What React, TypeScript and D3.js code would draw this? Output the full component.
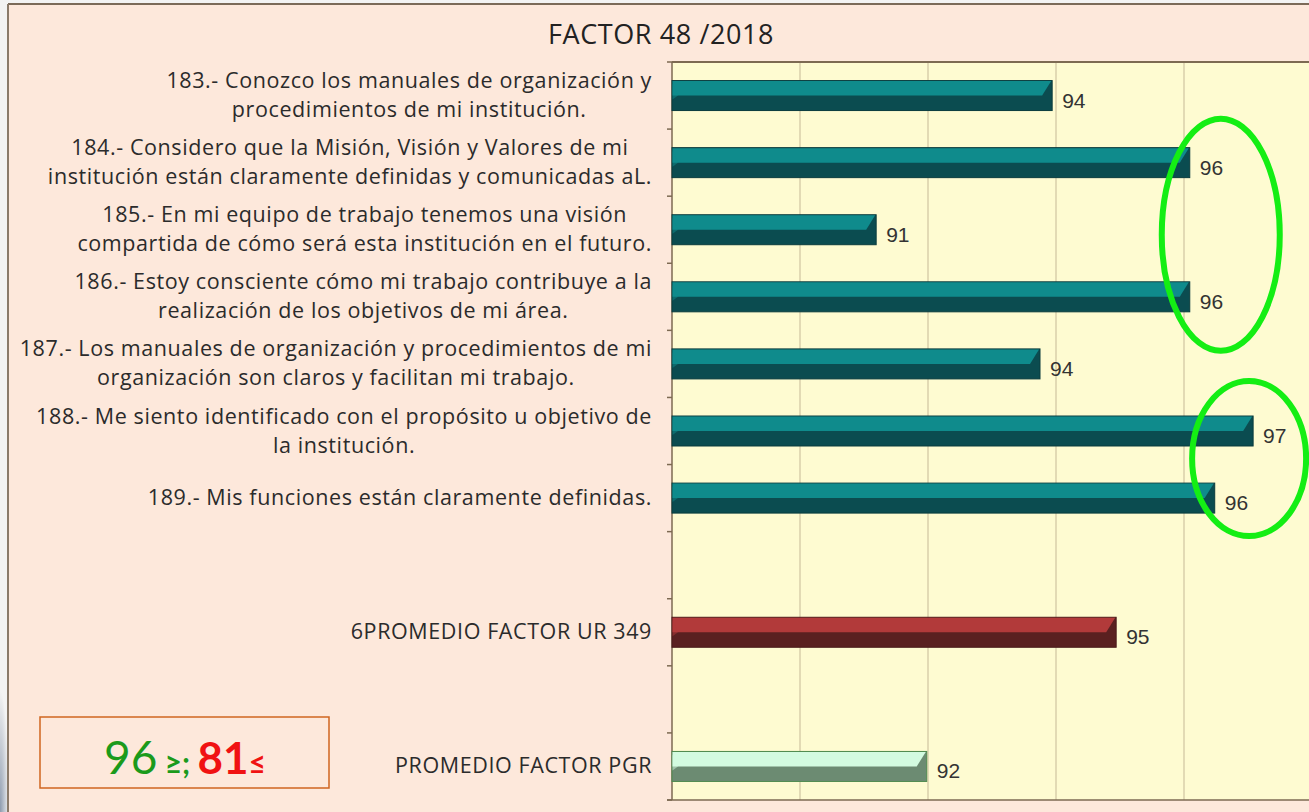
import React, { useEffect, useRef } from "react";
import * as d3 from "d3";

const W = 1309;
const H = 812;

const title = "FACTOR 48 /2018";

const questionLabels: string[][] = [
  ["183.- Conozco los manuales de organización y", "procedimientos de mi institución."],
  ["184.- Considero que la Misión, Visión y Valores de mi", "institución están claramente definidas y comunicadas aL."],
  ["185.- En mi equipo de trabajo tenemos una visión", "compartida de cómo será esta institución en el futuro."],
  ["186.- Estoy consciente cómo mi trabajo contribuye a la", "realización de los objetivos de mi área."],
  ["187.- Los manuales de organización y procedimientos de mi", "organización son claros y facilitan mi trabajo."],
  ["188.- Me siento identificado con el propósito u objetivo de", "la institución."],
  ["189.- Mis funciones están claramente definidas."],
];
const questionValues = [93.94, 96.09, 91.19, 96.09, 93.75, 97.08, 96.48];

const urLabel = "6PROMEDIO FACTOR UR 349";
const urValue = 94.94;
const pgrLabel = "PROMEDIO FACTOR PGR";
const pgrValue = 91.98;

const xDomain = [88, 98];
const xTicks = [88, 90, 92, 94, 96, 98];

// questions circled in green
const circledGroups = [[1, 2, 3], [5, 6]];

const legendGreen = "96";
const legendRed = "81";

type Row = { key: string; lines: string[]; value: number | null; kind: string };

const rows: Row[] = [
  ...questionLabels.map((l, i) => ({ key: "q" + i, lines: l, value: questionValues[i], kind: "q" })),
  { key: "gap1", lines: [], value: null, kind: "gap" },
  { key: "ur", lines: [urLabel], value: urValue, kind: "ur" },
  { key: "gap2", lines: [], value: null, kind: "gap" },
  { key: "pgr", lines: [pgrLabel], value: pgrValue, kind: "pgr" },
];

const palette: Record<string, { light: string; dark: string; stroke: string }> = {
  q: { light: "#0f8b8c", dark: "#0b4c50", stroke: "#0a3c3e" },
  ur: { light: "#b23a3a", dark: "#5a2020", stroke: "#4a1a1a" },
  pgr: { light: "#d3fbe0", dark: "#6c8b72", stroke: "#4f8a4f" },
};

export default function App() {
  const ref = useRef<SVGSVGElement | null>(null);

  useEffect(() => {
    const svg = d3.select(ref.current);
    svg.selectAll("*").remove();

    const left = 672, top = 62, bottom = 800;
    const x = d3.scaleLinear().domain(xDomain).range([left, left + 640]);
    const y = d3.scaleBand<string>().domain(rows.map((r) => r.key)).range([top, bottom]).paddingInner(0.553).paddingOuter(0.2765);

    // outside page
    svg.append("rect").attr("x", 0).attr("y", 0).attr("width", W).attr("height", H).attr("fill", "#f3f3f3");
    const defs = svg.append("defs");
    const rg = defs.append("radialGradient").attr("id", "blob").attr("cx", "0").attr("cy", "1").attr("r", "1");
    rg.append("stop").attr("offset", "0").attr("stop-color", "#8c9aae");
    rg.append("stop").attr("offset", "1").attr("stop-color", "#f3f3f3");
    svg.append("rect").attr("x", 0).attr("y", 690).attr("width", 9).attr("height", 122).attr("fill", "url(#blob)");

    // frame
    svg.append("rect").attr("x", 8).attr("y", 4).attr("width", W - 8).attr("height", H - 4).attr("fill", "#fde8db");
    svg.append("line").attr("x1", 8).attr("x2", W).attr("y1", 4).attr("y2", 4).attr("stroke", "#7b6a58").attr("stroke-width", 2);
    svg.append("line").attr("x1", 8).attr("x2", 8).attr("y1", 4).attr("y2", H).attr("stroke", "#8a7a6a").attr("stroke-width", 2);

    // plot area
    svg.append("rect").attr("x", left).attr("y", top).attr("width", W - left).attr("height", bottom - top).attr("fill", "#fefbd1");

    // grid
    svg.append("g").selectAll("line").data(xTicks.slice(1)).join("line")
      .attr("x1", (d) => x(d)).attr("x2", (d) => x(d)).attr("y1", top).attr("y2", bottom)
      .attr("stroke", "#d9cfaa").attr("stroke-width", 1.5);

    // axes
    svg.append("line").attr("x1", left).attr("x2", W).attr("y1", top).attr("y2", top).attr("stroke", "#7d6a52").attr("stroke-width", 2);
    svg.append("line").attr("x1", left - 5).attr("x2", W).attr("y1", bottom).attr("y2", bottom).attr("stroke", "#7d6a52").attr("stroke-width", 1.5);
    svg.append("line").attr("x1", left).attr("x2", left).attr("y1", top).attr("y2", bottom).attr("stroke", "#7d6a52").attr("stroke-width", 1.5);
    const step = y.step();
    const boundaries = d3.range(rows.length + 1).map((i) => top + i * step);
    svg.append("g").selectAll("line").data(boundaries).join("line")
      .attr("x1", left - 5).attr("x2", left).attr("y1", (d) => d).attr("y2", (d) => d)
      .attr("stroke", "#7d6a52").attr("stroke-width", 1.5);

    // bars
    const barRows = rows.filter((r) => r.value !== null);
    const bg = svg.append("g");
    barRows.forEach((r) => {
      const p = palette[r.kind];
      const y0 = y(r.key)!;
      const bh = y.bandwidth();
      const x0 = x(xDomain[0]);
      const x1 = x(r.value as number);
      const mid = y0 + bh / 2;
      bg.append("rect").attr("x", x0).attr("y", y0).attr("width", x1 - x0).attr("height", bh)
        .attr("fill", p.dark).attr("stroke", p.stroke).attr("stroke-width", 1);
      bg.append("polygon")
        .attr("points", [[x0 + 0.5, y0 + 0.5], [x1 - 1, y0 + 0.5], [x1 - 10, mid], [x0 + 0.5, mid]].map((q) => q.join(",")).join(" "))
        .attr("fill", p.light);
      bg.append("polygon")
        .attr("points", [[x0 + 0.5, y0 + 3], [x0 + 6, mid], [x0 + 0.5, mid + 4]].map((q) => q.join(",")).join(" "))
        .attr("fill", p.light).attr("opacity", 0.5);
      bg.append("text").attr("x", x1 + 10).attr("y", mid + 12)
        .attr("font-family", "'Liberation Sans', Arial, sans-serif").attr("font-size", 21).attr("fill", "#333")
        .text(String(Math.round(r.value as number)));
    });

    // category labels
    const lg = svg.append("g").attr("font-family", "'Open Sans', sans-serif").attr("font-size", 21.5)
      .attr("letter-spacing", 0.6).attr("fill", "#2b2b2b");
    const lineH = 29;
    rows.forEach((r) => {
      if (!r.lines.length) return;
      const c = y(r.key)! + y.bandwidth() / 2;
      const n = r.lines.length;
      const texts = r.lines.map((ln, i) =>
        lg.append("text").attr("text-anchor", "middle").attr("y", c + (i - (n - 1) / 2) * lineH + 7).text(ln)
      );
      const maxW = d3.max(texts, (t) => (t.node() as SVGTextElement).getComputedTextLength()) || 0;
      texts.forEach((t) => t.attr("x", 652 - maxW / 2));
    });

    // title
    svg.append("text").attr("x", 661).attr("y", 44).attr("text-anchor", "middle")
      .attr("font-family", "'Open Sans', sans-serif").attr("font-size", 27).attr("letter-spacing", 0.6)
      .attr("fill", "#222").text(title);

    // legend box
    svg.append("rect").attr("x", 40).attr("y", 717).attr("width", 289).attr("height", 71)
      .attr("fill", "none").attr("stroke", "#cf6520").attr("stroke-width", 1.5);
    const lt = svg.append("text").attr("x", 185).attr("y", 774).attr("text-anchor", "middle")
      .attr("font-family", "Lato, sans-serif").attr("font-size", 46);
    lt.append("tspan").attr("fill", "#1b9a1b").text(legendGreen);
    lt.append("tspan").attr("fill", "#1b9a1b").attr("font-weight", "bold").attr("font-size", 30).text(" ≥; ");
    lt.append("tspan").attr("fill", "#f01212").attr("font-weight", "bold").attr("font-size", 44).text(legendRed);
    lt.append("tspan").attr("fill", "#f01212").attr("font-weight", "bold").attr("font-size", 30).text("≤");

    // green ellipses around circled groups
    const ellipseStyle = [
      { dx: 31, dy: 5, padY: 49, rx: 59 },
      { dx: -4, dy: -6, padY: 44, rx: 57 },
    ];
    circledGroups.forEach((g, gi) => {
      const st = ellipseStyle[gi];
      const ys = g.map((i) => y("q" + i)! + y.bandwidth() / 2);
      const xs = g.map((i) => x(questionValues[i]));
      const cy = (d3.min(ys)! + d3.max(ys)!) / 2 + st.dy;
      const ry = (d3.max(ys)! - d3.min(ys)!) / 2 + st.padY;
      const cx = d3.max(xs)! + st.dx;
      svg.append("ellipse").attr("cx", cx).attr("cy", cy).attr("rx", st.rx).attr("ry", ry)
        .attr("fill", "none").attr("stroke", "#14ee14").attr("stroke-width", 6);
    });
  }, []);

  return (
    <svg ref={ref} width={W} height={H} style={{ position: "absolute", left: 0, top: 0, display: "block" }} />
  );
}
